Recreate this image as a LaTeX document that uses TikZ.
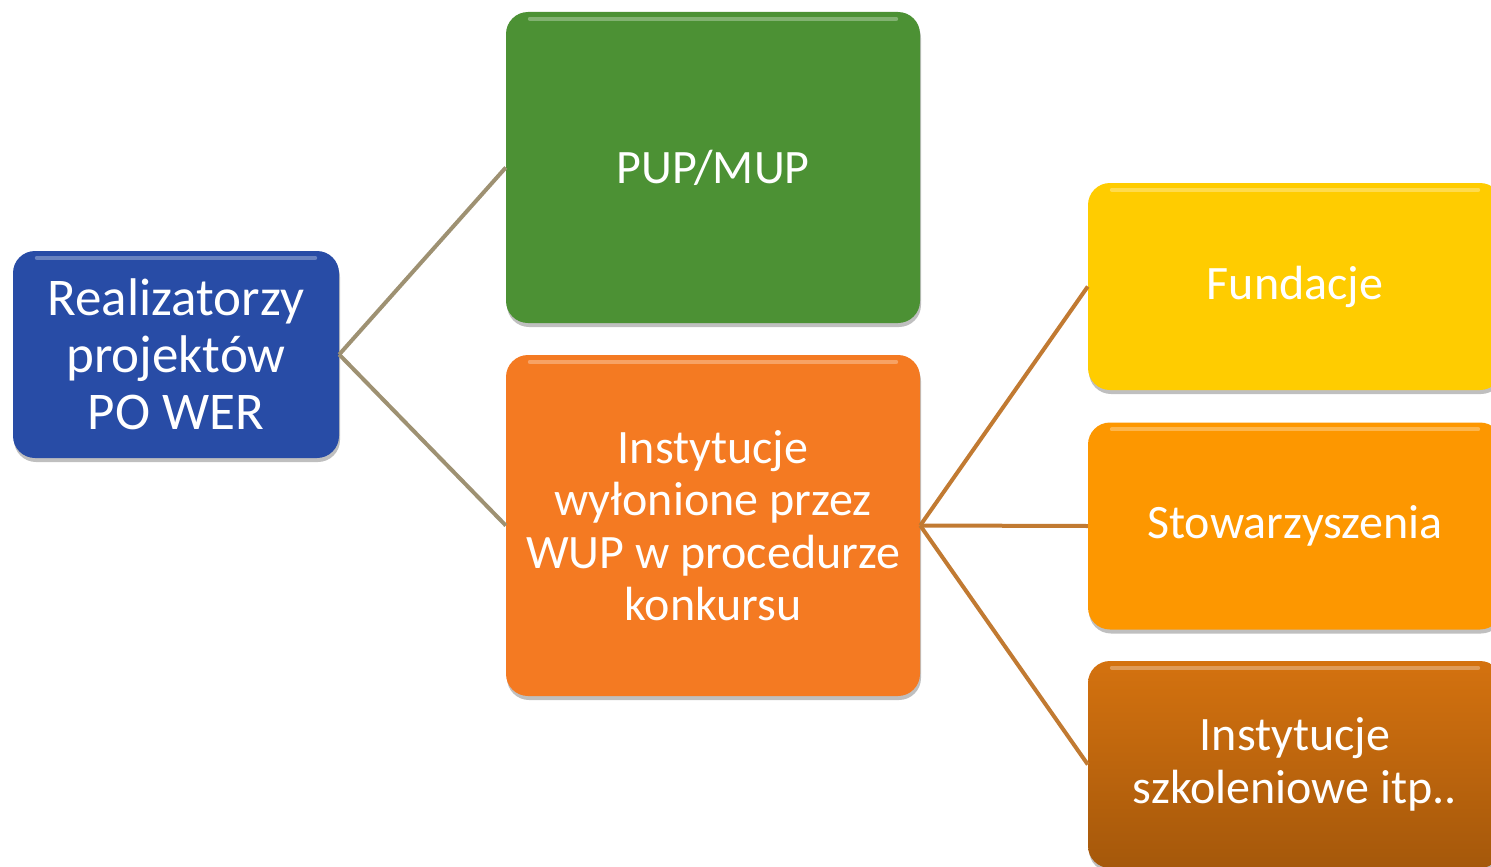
\documentclass[tikz,border=0pt]{standalone}
\usepackage{fontspec}
\setmainfont{Carlito}
\usetikzlibrary{shadows}
\definecolor{cblue}{HTML}{284CA6}
\definecolor{cgreen}{HTML}{4C9134}
\definecolor{corange}{HTML}{F47A22}
\definecolor{cyellow}{HTML}{FFCC00}
\definecolor{corange2}{HTML}{FD9700}
\definecolor{cbrownt}{HTML}{D4720F}
\definecolor{cbrownb}{HTML}{A5580B}
\definecolor{linkA}{HTML}{9E9172}
\definecolor{linkB}{HTML}{C17A32}
\tikzset{
  box/.style={rounded corners=22pt, text=white, align=center, inner sep=0pt,
    drop shadow={shadow xshift=1pt, shadow yshift=-4pt, opacity=0.25, fill=black}},
  bigtext/.style={font=\fontsize{53}{57}\selectfont},
  midtext/.style={font=\fontsize{48}{52.5}\selectfont},
  linkl/.style={draw=linkA, line width=4pt},
  linkr/.style={draw=linkB, line width=4pt},
  gloss/.style={white, opacity=0.3, line width=4pt, line cap=round}
}
\begin{document}
\begin{tikzpicture}[x=1pt,y=-1pt]
\useasboundingbox (0,0) rectangle (1491,867);
\clip (0,0) rectangle (1491,867);
\node[box, bigtext, fill=cblue, minimum width=326pt, minimum height=207pt] (root) at (176,354.5) {Realizatorzy\\projektów\\PO WER};
\node[box, midtext, fill=cgreen, minimum width=414pt, minimum height=311pt] (pup) at (713,167.5) {PUP/MUP};
\node[box, midtext, fill=corange, minimum width=414pt, minimum height=341pt] (inst) at (713,525.5) {Instytucje\\wyłonione przez\\WUP w procedurze\\konkursu};
\node[box, midtext, fill=cyellow, minimum width=414pt, minimum height=207pt] (fund) at (1295,286.5) {Fundacje};
\node[box, midtext, fill=corange2, minimum width=414pt, minimum height=207pt] (stow) at (1295,526) {Stowarzyszenia};
\node[box, midtext, top color=cbrownt, bottom color=cbrownb, minimum width=414pt, minimum height=207pt] (szk) at (1295,764.5) {Instytucje\\szkoleniowe itp..};
\foreach \n in {root,pup,inst,fund,stow,szk}{
  \draw[gloss] ([xshift=24pt,yshift=-7pt]\n.north west) -- ([xshift=-24pt,yshift=-7pt]\n.north east);
}
\draw[linkl] (root.east) -- (pup.west);
\draw[linkl] (root.east) -- (inst.west);
\draw[linkr] (inst.east) -- (fund.west);
\draw[linkr] (inst.east) -- (stow.west);
\draw[linkr] (inst.east) -- (szk.west);
\end{tikzpicture}
\end{document}
